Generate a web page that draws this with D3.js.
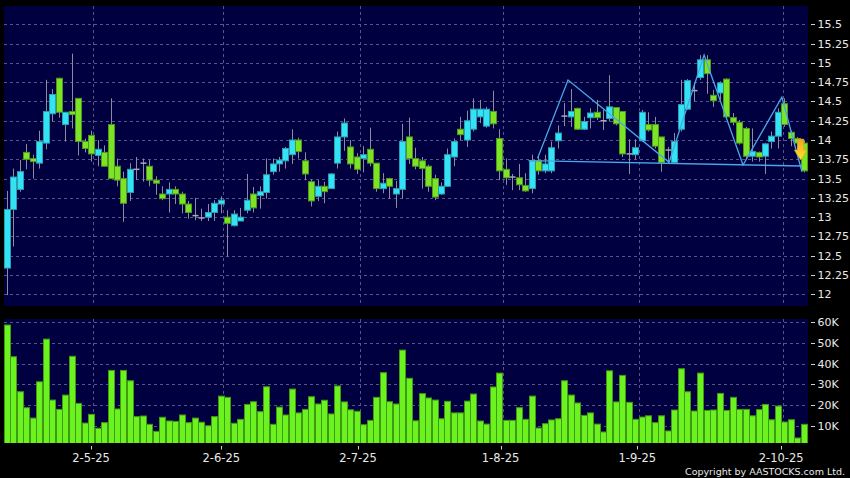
<!DOCTYPE html>
<html><head><meta charset="utf-8">
<script src="https://cdn.jsdelivr.net/npm/d3@7/dist/d3.min.js"></script>
<style>html,body{margin:0;padding:0;background:#000;}svg{display:block;}</style>
</head><body>
<script>
// ---------- DATA ----------
const openP  = [12.34,13.10,13.36,13.84,13.76,13.70,13.96,14.34,14.80,14.20,14.37,14.54,13.98,14.06,13.80,13.84,14.20,13.66,13.50,13.32,13.62,13.70,13.66,13.48,13.30,13.30,13.36,13.30,13.17,13.02,12.99,13.00,13.06,13.17,13.00,12.89,12.95,13.09,13.30,13.28,13.32,13.59,13.69,13.73,13.81,14.00,13.73,13.46,13.27,13.40,13.37,13.70,14.04,13.91,13.78,13.76,13.88,13.70,13.37,13.50,13.30,13.36,14.04,13.76,13.73,13.66,13.50,13.30,13.40,13.78,14.14,14.00,14.14,14.30,14.18,14.37,14.02,13.62,13.52,13.51,13.41,13.37,13.73,13.60,13.60,13.99,14.31,14.30,14.41,14.14,14.29,14.36,14.25,14.28,14.42,14.37,13.82,13.81,13.99,14.20,14.20,14.04,13.87,13.71,14.14,14.40,14.64,14.81,15.04,14.58,14.61,14.79,14.29,14.23,14.15,13.79,13.84,13.79,13.98,14.05,14.47,14.10,14.02,13.96];
const highP  = [13.34,13.63,13.74,13.95,13.81,14.12,14.78,14.66,14.81,14.36,15.12,14.54,14.02,14.12,14.00,13.93,14.54,13.76,13.59,13.70,13.78,13.76,13.74,13.53,13.40,13.45,13.40,13.33,13.21,13.25,13.11,13.17,13.22,13.27,13.09,13.09,13.12,13.56,13.39,13.40,13.76,13.76,13.78,13.91,14.14,14.03,13.84,13.49,13.48,13.46,13.57,14.11,14.28,14.00,13.83,13.92,14.16,13.70,13.57,13.51,13.47,14.21,14.29,13.90,13.78,13.68,13.55,13.45,13.89,14.02,14.30,14.38,14.54,14.52,14.43,14.64,14.14,13.76,13.56,13.69,13.57,13.81,13.81,13.81,13.98,14.19,14.48,14.66,14.42,14.30,14.41,14.52,14.39,14.84,14.42,14.37,14.01,14.01,14.39,14.36,14.30,14.04,13.91,14.09,14.78,14.79,14.74,15.10,15.10,14.65,14.76,14.80,14.35,14.26,14.17,14.15,13.85,13.96,14.11,14.41,14.54,14.12,14.04,13.99];
const lowP   = [11.99,12.62,13.33,13.62,13.50,13.63,13.88,14.24,14.29,13.98,14.15,13.80,13.84,13.72,13.66,13.66,13.50,13.40,12.94,13.21,13.48,13.46,13.40,13.29,13.22,13.06,13.17,13.05,12.98,12.96,12.95,12.95,12.95,13.05,12.49,12.88,12.95,13.05,13.06,13.11,13.24,13.55,13.59,13.63,13.69,13.76,13.48,13.14,13.21,13.18,13.37,13.63,13.86,13.63,13.56,13.58,13.66,13.33,13.31,13.24,13.12,13.24,13.69,13.62,13.37,13.33,13.22,13.29,13.40,13.66,14.00,13.91,14.11,14.22,14.16,14.15,13.48,13.42,13.35,13.35,13.33,13.31,13.55,13.57,13.57,13.89,14.18,14.17,14.13,14.13,14.15,14.26,14.13,14.24,14.19,13.78,13.56,13.75,13.98,14.11,13.89,13.59,13.70,13.69,14.11,14.39,14.50,14.78,14.60,14.43,14.52,14.29,14.19,13.94,13.74,13.72,13.72,13.56,13.89,13.89,14.17,13.92,13.87,13.58];
const closeP = [13.10,13.52,13.59,13.75,13.72,13.98,14.37,14.59,14.36,14.36,14.33,13.98,13.89,13.82,13.88,13.66,13.50,13.48,13.18,13.62,13.62,13.70,13.48,13.44,13.24,13.36,13.30,13.17,13.06,13.02,12.99,13.06,13.18,13.22,12.92,13.04,13.00,13.22,13.12,13.33,13.55,13.69,13.74,13.89,14.00,13.85,13.56,13.21,13.40,13.33,13.56,14.04,14.22,13.69,13.62,13.81,13.70,13.37,13.44,13.40,13.37,13.98,13.76,13.66,13.63,13.40,13.26,13.40,13.81,13.98,14.07,14.25,14.40,14.40,14.40,14.21,13.60,13.51,13.52,13.42,13.34,13.73,13.60,13.69,13.90,14.09,14.31,14.37,14.14,14.24,14.35,14.29,14.25,14.43,14.21,13.82,13.82,13.90,14.36,14.13,13.92,13.71,13.87,13.98,14.46,14.77,14.64,15.04,14.86,14.51,14.74,14.30,14.23,13.96,13.79,13.85,13.78,13.95,14.05,14.36,14.20,14.02,13.96,13.60];
const volume = [58.7,43.4,26.5,18.8,13.8,31.3,51.9,22.5,18.0,24.9,43.6,20.9,11.4,15.6,8.9,11.6,36.8,18.2,36.8,31.8,14.5,14.8,10.8,7.4,14.2,12.4,12.2,15.3,11.6,13.8,11.8,10.1,14.5,24.4,23.8,11.3,13.2,20.4,21.7,16.9,28.9,10.8,19.1,15.3,27.8,16.3,18.0,24.1,20.6,22.4,15.8,29.3,21.6,17.8,17.1,10.6,12.7,23.8,35.7,21.7,20.6,46.6,33.0,12.5,25.6,23.5,22.5,13.5,21.9,16.3,16.3,22.0,25.4,12.4,10.9,28.8,35.5,12.7,12.7,18.8,13.2,24.4,9.0,11.1,12.9,13.5,31.8,24.9,21.1,15.1,16.3,10.9,7.1,36.6,21.6,34.4,21.4,13.2,14.3,14.9,11.6,14.9,7.6,17.7,37.6,26.5,17.2,35.5,17.5,17.7,25.7,17.5,23.8,18.0,18.0,14.9,17.9,20.4,13.0,19.6,11.9,13.0,4.2,10.8].map(v => v * 1000);
const dateLabels = ["2-5-25","2-6-25","2-7-25","1-8-25","1-9-25","2-10-25"];
const dateIdx    = [13.3, 33.4, 54.5, 76.5, 97.6, 119.8];
const priceTicks = [12,12.25,12.5,12.75,13,13.25,13.5,13.75,14,14.25,14.5,14.75,15,15.25,15.5];
const priceTickLabels = ["12","12.25","12.5","12.75","13","13.25","13.5","13.75","14","14.25","14.5","14.75","15","15.25","15.5"];
const volTicks = [10000,20000,30000,40000,50000,60000];
const volTickLabels = ["10K","20K","30K","40K","50K","60K"];
// pattern lines (index, price)
const neckline = [[80.5,13.732],[122.7,13.663]];
const zigzag = [[81.9,13.763],[86.6,14.778],[102.2,13.711],[107.6,15.102],[113.6,13.676],[119.6,14.554],[122.7,13.589]];
const signalArrow = {idx: 122.5, price: 13.74};

// ---------- LAYOUT ----------
const W = 850, H = 478;
const P = {x0: 4, x1: 808, y0: 6, y1: 306};      // price panel
const V = {x0: 4, x1: 808, y0: 319, y1: 443};    // volume panel
const BG = "#000040", GRID = "#55558a";
const UP = "#33e3f5", UPB = "#2a9fb0", DN = "#7de327", DNB = "#4f9a1c";

const svg = d3.select("body").append("svg").attr("width", W).attr("height", H)
  .style("font-family", "'DejaVu Sans', Verdana, sans-serif");
svg.append("rect").attr("width", W).attr("height", H).attr("fill", "#000");

const x = d3.scaleLinear().domain([0, 123]).range([6.85, 803.9]);
const yP = d3.scaleLinear().domain([12, 15.5]).range([294.3, 24.3]);
const yV = d3.scaleLinear().domain([1784, 60000]).range([443, 322.3]);

const defs = svg.append("defs");
defs.append("clipPath").attr("id","cp").append("rect").attr("x",P.x0).attr("y",P.y0).attr("width",P.x1-P.x0).attr("height",P.y1-P.y0);
defs.append("clipPath").attr("id","cv").append("rect").attr("x",V.x0).attr("y",V.y0).attr("width",V.x1-V.x0).attr("height",V.y1-V.y0);
const grad = defs.append("linearGradient").attr("id","arrowG").attr("x1",0).attr("y1",0).attr("x2",0).attr("y2",1);
grad.append("stop").attr("offset","0%").attr("stop-color","#f0a426");
grad.append("stop").attr("offset","50%").attr("stop-color","#f8c424");
grad.append("stop").attr("offset","100%").attr("stop-color","#ffe23a");

// panels
[P, V].forEach(p => svg.append("rect").attr("x",p.x0).attr("y",p.y0).attr("width",p.x1-p.x0).attr("height",p.y1-p.y0).attr("fill",BG));

// gridlines price
const gP = svg.append("g").attr("clip-path","url(#cp)");
gP.selectAll("line.h").data(priceTicks).join("line")
  .attr("x1",P.x0).attr("x2",P.x1).attr("y1",d=>Math.round(yP(d))+0.5).attr("y2",d=>Math.round(yP(d))+0.5)
  .attr("stroke",GRID).attr("stroke-dasharray","3,3").attr("stroke-width",1);
gP.selectAll("line.v").data(dateIdx).join("line")
  .attr("x1",d=>Math.round(x(d))+0.5).attr("x2",d=>Math.round(x(d))+0.5).attr("y1",P.y0).attr("y2",P.y1)
  .attr("stroke",GRID).attr("stroke-dasharray","3,3").attr("stroke-width",1);

// gridlines volume
const gV = svg.append("g").attr("clip-path","url(#cv)");
gV.selectAll("line.h").data(volTicks).join("line")
  .attr("x1",V.x0).attr("x2",V.x1).attr("y1",d=>Math.round(yV(d))+0.5).attr("y2",d=>Math.round(yV(d))+0.5)
  .attr("stroke",GRID).attr("stroke-dasharray","3,3");
gV.selectAll("line.v").data(dateIdx).join("line")
  .attr("x1",d=>Math.round(x(d))+0.5).attr("x2",d=>Math.round(x(d))+0.5).attr("y1",V.y0).attr("y2",V.y1)
  .attr("stroke",GRID).attr("stroke-dasharray","3,3");

// candles
const candles = openP.map((o,i)=>({i, o, h: highP[i], l: lowP[i], c: closeP[i]}));
const gC = gP.append("g");
gC.selectAll("line.wick").data(candles).join("line")
  .attr("x1",d=>Math.round(x(d.i))+0.5).attr("x2",d=>Math.round(x(d.i))+0.5)
  .attr("y1",d=>yP(d.h)).attr("y2",d=>yP(d.l))
  .attr("stroke","#8c8c9c").attr("stroke-width",1);
gC.selectAll("rect.body").data(candles.filter(d=>d.c!==d.o)).join("rect")
  .attr("x",d=>Math.round(x(d.i))-2.5).attr("width",6)
  .attr("y",d=>yP(Math.max(d.o,d.c))).attr("height",d=>Math.max(1,Math.abs(yP(d.o)-yP(d.c))))
  .attr("fill",d=>d.c>d.o?UP:DN).attr("stroke",d=>d.c>d.o?UPB:DNB).attr("stroke-width",1);
gC.selectAll("line.doji").data(candles.filter(d=>d.c===d.o)).join("line")
  .attr("x1",d=>Math.round(x(d.i))-2.5).attr("x2",d=>Math.round(x(d.i))+3.5)
  .attr("y1",d=>yP(d.o)).attr("y2",d=>yP(d.o))
  .attr("stroke","#a8a8b8").attr("stroke-width",1.5);

// pattern lines
const line = d3.line().x(d=>x(d[0])).y(d=>yP(d[1]));
gP.append("path").attr("d",line(neckline)).attr("fill","none").attr("stroke","#4aa6e6").attr("stroke-width",1.3);
gP.append("path").attr("d",line(zigzag)).attr("fill","none").attr("stroke","#4aa6e6").attr("stroke-width",1.3);

// signal arrow
{
  const cx = x(signalArrow.idx), ty = yP(signalArrow.price);
  const p = d3.path();
  p.moveTo(cx-3.2, ty-21); p.lineTo(cx+3.2, ty-21); p.lineTo(cx+3.2, ty-10); p.lineTo(cx+6.5, ty-10);
  p.lineTo(cx, ty); p.lineTo(cx-6.5, ty-10); p.lineTo(cx-3.2, ty-10); p.closePath();
  gP.append("path").attr("d",p.toString()).attr("fill","url(#arrowG)").attr("stroke","#d89a18").attr("stroke-width",0.5);
}

// volume bars
gV.selectAll("rect.vol").data(volume).join("rect")
  .attr("x",(d,i)=>Math.round(x(i))-2.5).attr("width",6)
  .attr("y",d=>yV(d)).attr("height",d=>V.y1+2-yV(d))
  .attr("fill","#6cf21e").attr("stroke","#3f9a14").attr("stroke-width",1);

// y-axis labels price
const axG = svg.append("g").attr("fill","#e8e8e8").attr("font-size","11px");
axG.selectAll("line.pt").data(priceTicks).join("line")
  .attr("x1",811).attr("x2",815).attr("y1",d=>Math.round(yP(d))+0.5).attr("y2",d=>Math.round(yP(d))+0.5).attr("stroke","#cfcfcf");
axG.selectAll("text.pl").data(priceTicks).join("text")
  .attr("x",817.5).attr("y",d=>yP(d)).attr("dy","0.36em").text((d,i)=>priceTickLabels[i]);
axG.selectAll("line.vt").data(volTicks).join("line")
  .attr("x1",811).attr("x2",815).attr("y1",d=>Math.round(yV(d))+0.5).attr("y2",d=>Math.round(yV(d))+0.5).attr("stroke","#cfcfcf");
axG.selectAll("text.vl").data(volTicks).join("text")
  .attr("x",817.5).attr("y",d=>yV(d)).attr("dy","0.36em").text((d,i)=>volTickLabels[i]);

// x-axis labels
const xG = svg.append("g").attr("fill","#e8e8e8").attr("font-size","11.5px").attr("text-anchor","middle");
xG.selectAll("line").data(dateIdx).join("line")
  .attr("x1",d=>Math.round(x(d))-1.5).attr("x2",d=>Math.round(x(d))-1.5).attr("y1",446).attr("y2",449.5).attr("stroke","#cfcfcf");
xG.selectAll("text").data(dateIdx).join("text")
  .attr("x",d=>x(d)-2).attr("y",457.5).attr("dy","0.36em").text((d,i)=>dateLabels[i]);

svg.append("text").attr("x",845).attr("y",471.5).attr("dy","0.36em").attr("text-anchor","end")
  .attr("fill","#e8e8e8").attr("font-size","9.5px").text("Copyright by AASTOCKS.com Ltd.");
</script>
</body></html>
